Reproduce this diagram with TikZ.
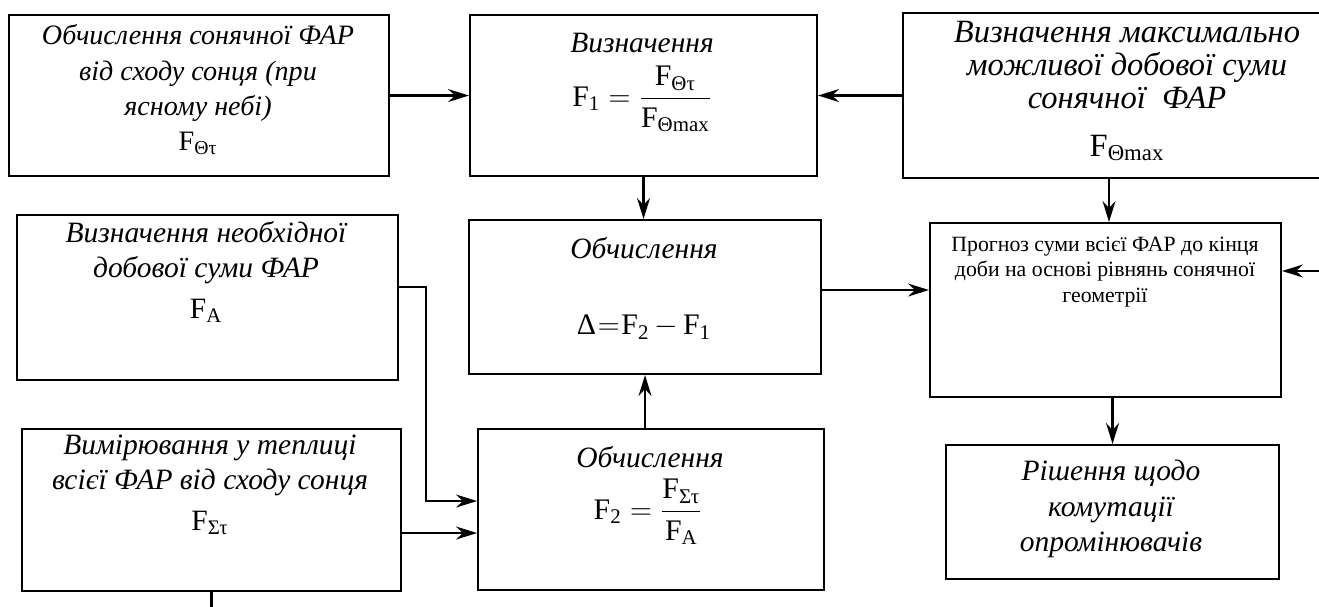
\documentclass[tikz,border=0pt]{standalone}
\usepackage{amsmath}
\usepackage{fontspec}
\setmainfont{Liberation Serif}
\usetikzlibrary{arrows.meta}
\usetikzlibrary{positioning}

\newcommand{\Fsub}[1]{\text{\upshape F}_{\text{\upshape #1}}}

\tikzset{
  block/.style={draw, line width=1.2pt, anchor=north west, inner sep=0pt},
  txt/.style={font=\fontsize{16.8}{20}\selectfont\itshape, align=center},
  formula/.style={font=\fontsize{17}{20}\selectfont},
  plain/.style={font=\fontsize{12.4}{14.6}\selectfont, align=center},
  flow/.style={line width=1.2pt, -{Stealth[length=0.42cm,width=0.26cm,inset=0.14cm]}},
}

\begin{document}
\begin{tikzpicture}[x=0.02cm, y=-0.02cm]
    \useasboundingbox (0,0) rectangle (1319,607);

    % Boxes
    \node[block, minimum width=7.6cm, minimum height=3.22cm] (sunfar) at (8,14) {};
    \node[block, minimum width=6.94cm, minimum height=3.22cm] (f1box) at (469,14) {};
    \node[block, minimum width=8.4cm, minimum height=3.3cm] (maxfar) at (902,12) {};
    \node[block, minimum width=7.62cm, minimum height=3.3cm] (needfar) at (16,214) {};
    \node[block, minimum width=7.04cm, minimum height=3.08cm] (deltabox) at (468,219) {};
    \node[block, minimum width=7.02cm, minimum height=3.48cm] (forecast) at (929,222) {};
    \node[block, minimum width=7.58cm, minimum height=3.24cm] (measfar) at (21,428) {};
    \node[block, minimum width=6.92cm, minimum height=3.22cm] (f2box) at (477,428) {};
    \node[block, minimum width=6.66cm, minimum height=2.68cm] (decision) at (945,444) {};

    % Texts
    \node[txt, font=\fontsize{16}{20}\selectfont\itshape] (sun text) at (198,90) {Обчислення сонячної ФАР\\від сходу сонця (при\\ясному небі)\\$\Fsub{Θτ}$};
    \node[txt] (f1 title) at (642,43) {Визначення};
    \node[formula] (f1 formula) at (642,99) {$\Fsub{1} = \dfrac{\Fsub{Θτ}}{\Fsub{Θmax}}$};
    \node[txt, font=\fontsize{18.5}{19}\selectfont\itshape] (max text) at (1127,91) {Визначення максимально\\можливої добової суми\\сонячної\ \ ФАР\\[8pt]$\Fsub{Θmax}$};
    \node[txt] (need text) at (206,272) {Визначення необхідної\\добової суми ФАР\\[3pt]$\Fsub{A}$};
    \node[txt] (delta title) at (644,248) {Обчислення};
    \node[formula] (delta formula) at (644,327) {$\text{\upshape Δ}\mskip1mu{=}\mskip1mu\Fsub{2}\mskip3mu{-}\mskip3mu\Fsub{1}$};
    \node[plain] (forecast text) at (1105,272) {Прогноз суми всієї ФАР до кінця\\доби на основі рівнянь сонячної\\геометрії};
    \node[txt] (meas text) at (210,485) {Вимірювання у теплиці\\всієї ФАР від сходу сонця\\[3pt]$\Fsub{Στ}$};
    \node[txt] (f2 title) at (650,457) {Обчислення};
    \node[formula] (f2 formula) at (648,512) {$\Fsub{2} = \dfrac{\Fsub{Στ}}{\Fsub{A}}$};
    \node[txt] (decision text) at (1111,509) {Рішення щодо\\комутації\\опромінювачів};

    % Connectors
    \draw[flow] (sunfar.east) -- (f1box.west);
    \draw[flow] (maxfar.west) -- (maxfar.west -| f1box.east);
    \draw[flow] (f1box.south) -- (f1box.south |- deltabox.north);
    \draw[flow] (deltabox.south |- f2box.north) -- (deltabox.south);
    \coordinate (delta out) at ([yshift=0.14cm]deltabox.east);
    \draw[flow] (delta out) -- (delta out -| forecast.west);
    \draw[flow] ([xshift=-0.08cm]maxfar.south) -- ([xshift=-0.08cm]maxfar.south |- forecast.north);
    \coordinate (side in) at (1319,271);
    \draw[flow] (side in) -- (side in -| forecast.east);
    \draw[flow] (decision.north |- forecast.south) -- (decision.north);
    \coordinate (need bend) at (426,287);
    \coordinate (f2 in top) at ([yshift=0.17cm]f2box.west);
    \draw[flow] (needfar.east |- need bend) -- (need bend) |- (f2 in top);
    \coordinate (meas out) at ([yshift=-0.46cm]measfar.east);
    \draw[flow] (meas out) -- (meas out -| f2box.west);
    \coordinate (meas end) at (208,607);
    \draw[line width=1.2pt] (measfar.south) -- (measfar.south |- meas end);

\end{tikzpicture}
\end{document}
